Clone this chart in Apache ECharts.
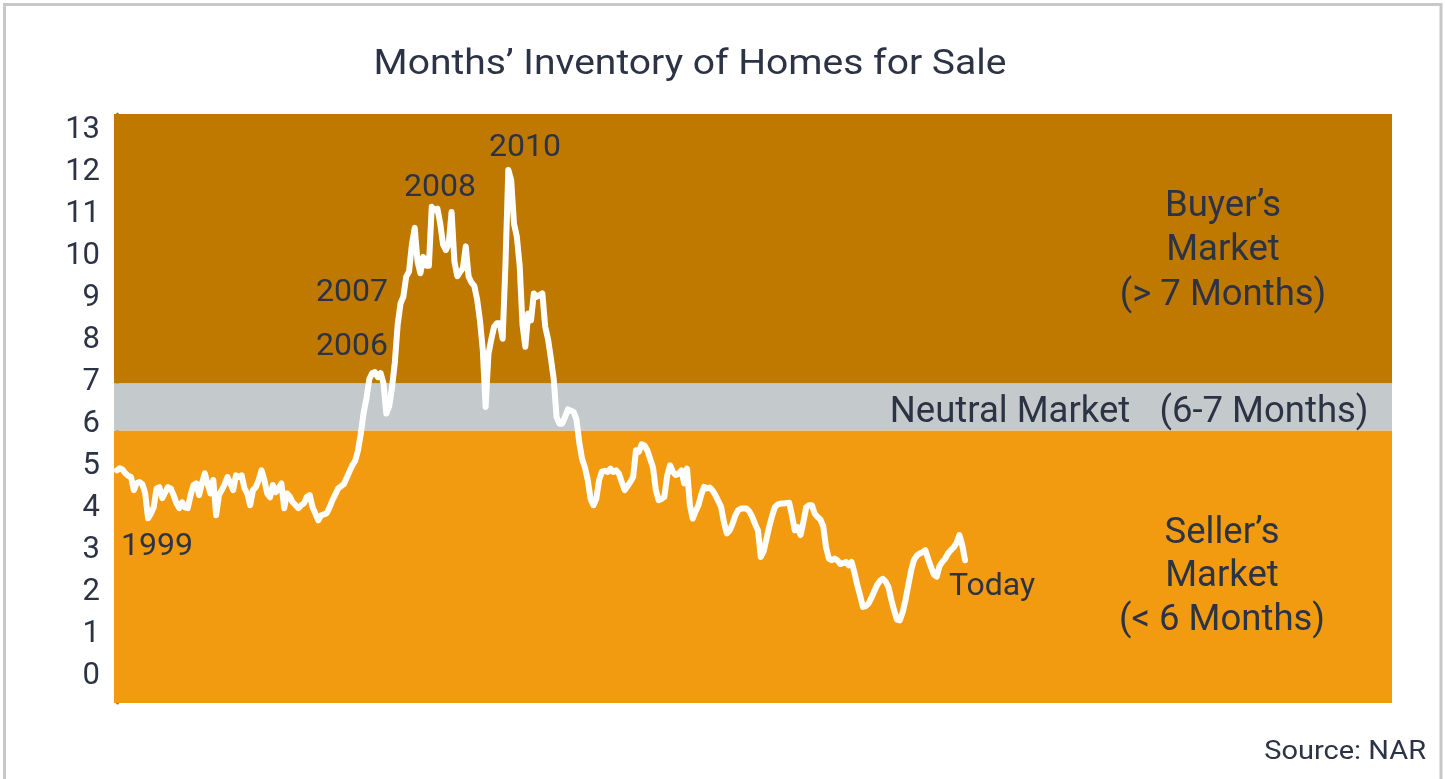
<!DOCTYPE html>
<html>
<head>
<meta charset="utf-8">
<script src="https://cdn.jsdelivr.net/npm/echarts@6/dist/echarts.min.js"></script>
<style>
  html, body { margin: 0; padding: 0; background: #fff; }
  #chart { width: 1445px; height: 779px; }
</style>
</head>
<body>
<div id="chart"></div>
<script>
// months' supply, monthly from Jan 1999 to "today"
const inventory = [
  4.83, 4.88, 4.85, 4.76, 4.70, 4.67, 4.36, 4.52, 4.55, 4.50, 4.28, 3.69,
  3.80, 3.95, 4.40, 4.43, 4.17, 4.30, 4.43, 4.40, 4.24, 4.05, 3.93, 4.07,
  3.95, 3.93, 4.24, 4.48, 4.52, 4.24, 4.52, 4.76, 4.50, 4.28, 4.60, 3.76,
  4.24, 4.36, 4.50, 4.67, 4.52, 4.36, 4.71, 4.67, 4.71, 4.40, 4.28, 4.00,
  4.36, 4.43, 4.60, 4.83, 4.60, 4.28, 4.19, 4.48, 4.31, 4.40, 4.52, 3.93,
  4.28, 4.20, 4.07, 4.00, 3.93, 4.00, 4.05, 4.20, 4.24, 3.95, 3.80, 3.64,
  3.76, 3.78, 3.81, 3.95, 4.12, 4.25, 4.40, 4.45, 4.50, 4.65, 4.80, 4.95,
  5.05, 5.30, 5.70, 6.20, 6.55, 7.00, 7.14, 7.17, 7.05, 7.14, 6.90, 6.18,
  6.35, 6.80, 7.40, 8.30, 8.80, 8.96, 9.44, 9.56, 10.20, 10.60, 9.80, 9.52,
  9.91, 9.70, 9.70, 11.10, 11.02, 11.06, 10.70, 10.20, 10.07, 10.23, 10.98, 9.80,
  9.45, 9.55, 9.64, 10.16, 9.44, 9.30, 9.22, 8.90, 8.40, 7.70, 6.34, 7.60,
  7.95, 8.25, 8.33, 8.33, 7.96, 9.75, 11.98, 11.74, 10.70, 10.39, 9.70, 8.30,
  7.77, 8.56, 8.40, 9.04, 8.96, 9.00, 9.04, 8.25, 7.95, 7.50, 7.00, 6.10,
  5.94, 5.94, 6.10, 6.28, 6.25, 6.22, 6.05, 5.50, 5.10, 4.90, 4.60, 4.15,
  4.00, 4.15, 4.60, 4.80, 4.82, 4.79, 4.87, 4.79, 4.83, 4.75, 4.55, 4.36,
  4.45, 4.55, 4.67, 5.31, 5.27, 5.45, 5.42, 5.30, 5.10, 4.90, 4.36, 4.12,
  4.15, 4.20, 4.70, 4.95, 4.80, 4.72, 4.75, 4.83, 4.52, 4.87, 4.00, 3.68,
  3.85, 4.00, 4.25, 4.44, 4.40, 4.42, 4.35, 4.24, 4.10, 3.96, 3.60, 3.33,
  3.40, 3.55, 3.75, 3.88, 3.92, 3.92, 3.92, 3.85, 3.72, 3.55, 3.40, 2.77,
  2.90, 3.20, 3.50, 3.75, 3.96, 4.02, 4.04, 4.04, 4.05, 4.06, 3.75, 3.40,
  3.48, 3.29, 3.60, 3.95, 4.00, 4.00, 3.80, 3.72, 3.66, 3.50, 3.00, 2.73,
  2.69, 2.73, 2.69, 2.60, 2.62, 2.65, 2.57, 2.65, 2.40, 2.10, 1.85, 1.58,
  1.60, 1.66, 1.80, 1.95, 2.10, 2.20, 2.25, 2.18, 2.05, 1.75, 1.50, 1.28,
  1.26, 1.45, 1.74, 2.10, 2.45, 2.70, 2.80, 2.85, 2.88, 2.93, 2.72, 2.53,
  2.35, 2.30, 2.55, 2.65, 2.73, 2.85, 2.93, 3.00, 3.10, 3.29, 3.05, 2.69
]

const yTicks = [0, 1, 2, 3, 4, 5, 6, 7, 8, 9, 10, 11, 12, 13]

// market bands as drawn: seller below first edge, neutral between, buyer above
const bandEdges = [5.78, 6.9]
const yMin = -0.707
const yMax = 13.31

let chart = echarts.init(document.getElementById('chart'))

const txt = '#2b3345'

// small helper for the free-standing captions
function label(text, x, y, size, opts) {
  opts = opts || {}
  return {
    type: 'text', x: x, y: y, z: 10, silent: true,
    scaleX: opts.scaleX || 1,
    style: {
      text: text,
      font: size + 'px Roboto',
      lineHeight: opts.lineHeight || size * 1.2,
      fill: txt,
      align: opts.align || 'center',
      verticalAlign: 'middle'
    }
  }
}

chart.setOption({
  animation: false,
  grid: { left: 114, right: 53, top: 114, bottom: 76 },
  xAxis: {
    type: 'value',
    min: -1,
    max: 449.5,
    show: false
  },
  yAxis: {
    type: 'value',
    min: yMin,
    max: yMax,
    axisLine: { show: true, lineStyle: { color: '#4e8fad', width: 3 } },
    axisTick: { show: false },
    splitLine: { show: false },
    axisLabel: {
      customValues: yTicks,
      margin: 14,
      formatter: '{v|{value}}',
      rich: {
        v: { fontFamily: 'Roboto', fontSize: 31, color: txt, padding: [6, 0, 0, 0] }
      }
    }
  },
  series: [
    {
      type: 'line',
      data: inventory.map((v, i) => [i, v]),
      showSymbol: false,
      lineStyle: { color: '#ffffff', width: 6, join: 'round', cap: 'round' },
      z: 5,
      markArea: {
        silent: true,
        data: [
          [{ yAxis: yMin, itemStyle: { color: '#f29b11' } }, { yAxis: bandEdges[0] }],
          [{ yAxis: bandEdges[0], itemStyle: { color: '#c4c9cc' } }, { yAxis: bandEdges[1] }],
          [{ yAxis: bandEdges[1], itemStyle: { color: '#bf7800' } }, { yAxis: yMax }]
        ]
      }
    }
  ],
  graphic: [
    {
      type: 'rect',
      shape: { x: 4.5, y: 4.5, width: 1436.5, height: 820 },
      style: { fill: 'none', stroke: '#c8c8c8', lineWidth: 3 },
      silent: true
    },
    label('Months’ Inventory of Homes for Sale', 690, 65, 35, { scaleX: 1.115 }),
    label('2010', 525, 148, 32),
    label('2008', 440, 188, 32),
    label('2007', 352, 293, 32),
    label('2006', 352, 347, 32),
    label('1999', 157, 547, 32),
    label('Today', 992, 587, 32),
    label('Buyer’s\nMarket\n(> 7 Months)', 1223, 251, 36.5, { lineHeight: 44.5 }),
    label('Neutral Market', 1010, 413, 36.5),
    label('(6-7 Months)', 1264, 413, 36.5),
    label('Seller’s\nMarket\n(< 6 Months)', 1222, 577, 36.5, { lineHeight: 43.5 }),
    label('Source: NAR', 1426, 752, 26, { scaleX: 1.115, align: 'right' })
  ]
})
</script>
</body>
</html>
